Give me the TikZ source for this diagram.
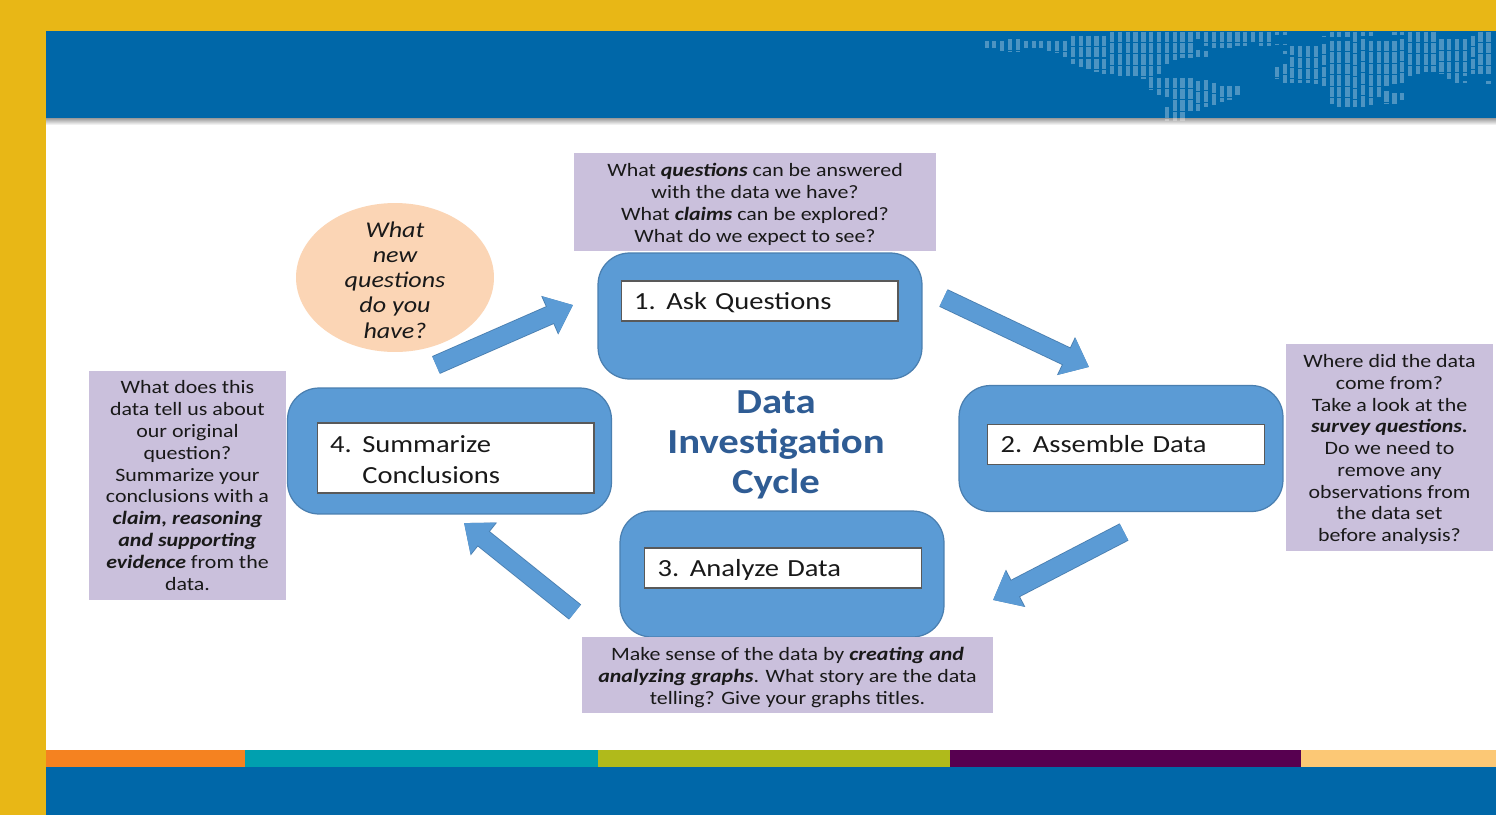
\documentclass[tikz,border=0pt]{standalone}
\usepackage{fontspec}
\setmainfont[FakeStretch=1.16]{Carlito}
\usetikzlibrary{shapes.geometric,arrows.meta}
\definecolor{frameyellow}{HTML}{E8B716}
\definecolor{bandblue}{HTML}{0067A8}
\definecolor{boxblue}{HTML}{5B9BD5}
\definecolor{edgeblue}{HTML}{4A7FB0}
\definecolor{notelilac}{HTML}{CAC0DC}
\definecolor{titleblue}{HTML}{2F5C94}
\definecolor{bubblepeach}{HTML}{FBD5B5}
\definecolor{stripeorange}{HTML}{F58220}
\definecolor{stripeteal}{HTML}{00A0AF}
\definecolor{stripegreen}{HTML}{B0BA1B}
\definecolor{stripepurple}{HTML}{570050}
\definecolor{stripesand}{HTML}{FCC875}
\newcommand{\kw}[1]{\textbf{\textit{#1}}}
\newcommand{\stepno}[1]{\makebox[18.3pt][l]{#1}}
\newcommand{\dropline}[1]{\rule{0pt}{#1}}
\tikzset{
  stepbox/.style={draw=edgeblue, fill=boxblue, line width=0.7pt, rounded corners=18pt, minimum width=6.48cm, minimum height=2.52cm},
  steplabel/.style={draw=black!65, fill=white, line width=0.6pt, minimum width=5.54cm, text width=5.54cm, inner xsep=0pt, align=left, font=\fontsize{14}{17.6}\selectfont, text=black!90},
  note/.style={fill=notelilac, inner sep=0pt, align=center, font=\fontsize{10.75}{12.4}\selectfont, text=black!90},
  flow/.style={draw=boxblue, line width=10pt, -{Triangle[length=14pt,width=22pt]},
    preaction={draw=edgeblue, line width=11pt, -{Triangle[length=14.5pt,width=23pt]}}},
  mapdot/.style={draw=white, opacity=0.3, line width=2.4pt, dash pattern=on 5.9pt off 0.6pt}
}
\begin{document}
\begin{tikzpicture}[x=0.02cm,y=-0.02cm]
  \useasboundingbox (0,0) rectangle (1496,815);
  \fill[frameyellow] (0,0) rectangle (1496,815);
  \fill[white] (46,118) rectangle (1496,750);
  \shade[top color=black!40, bottom color=white] (46,118) rectangle (1496,125);
  \fill[bandblue] (46,31) rectangle (1496,118);
  \fill[bandblue] (46,767) rectangle (1496,815);
  \fill[stripeorange] (46,750) rectangle (245,767);
  \fill[stripeteal] (245,750) rectangle (598,767);
  \fill[stripegreen] (598,750) rectangle (950,767);
  \fill[stripepurple] (950,750) rectangle (1301,767);
  \fill[stripesand] (1301,750) rectangle (1496,767);

  \begin{scope}[shift={(950,20)},x=0.00697cm,y=-0.00697cm]
    \foreach \mx/\my/\mz in {105/60/80,127/60/80,150/60/88,172/55/88,195/55/88,217/60/80,240/60/80,262/60/80,
      285/60/90,307/60/95,330/60/105,352/45/125,375/45/135,397/45/140,420/45/150,442/45/155,
      465/33/155,487/33/162,510/33/162,532/33/162,555/33/170,577/33/200,600/33/155,600/165/215,
      622/33/125,622/165/220,622/250/290,645/33/115,645/165/290,667/33/110,667/165/290,690/33/110,690/165/260,
      712/33/55,712/85/105,712/175/260,735/33/75,735/90/105,735/172/250,757/33/80,757/180/245,
      780/33/80,780/190/235,802/33/80,802/190/230,825/33/75,825/190/215,847/33/75,870/33/65,892/33/75,915/33/75,
      937/33/43,937/68/73,937/135/170,960/33/43,960/68/73,960/90/97,960/125/180,982/75/100,982/105/180,
      1005/75/180,1027/75/180,1050/75/185,1072/45/50,1072/68/190,1095/33/50,1095/60/240,1117/33/50,1117/60/250,
      1140/33/50,1140/60/250,1162/33/250,1185/33/45,1185/55/250,1207/33/45,1207/60/245,1230/60/220,
      1252/60/190,1252/205/240,1275/33/43,1275/60/185,1275/210/240,1297/33/43,1297/55/180,1297/210/230,
      1320/33/160,1342/33/155,1365/33/150,1387/33/150,1410/55/155,1432/55/170,1455/55/180,1477/55/160,
      1477/175/180,1500/45/155,1522/33/155,1545/33/155,1545/175/185}
      \draw[mapdot] (\mx,\my) -- (\mx,\mz);
  \end{scope}

  \node[stepbox] (ask) at (760,316) {};
  \node[stepbox] (assemble) at (1121,448.5) {};
  \node[stepbox] (analyze) at (782,574) {};
  \node[stepbox] (summarize) at (449.5,451) {};

  \node[steplabel, minimum height=0.8cm] (asklabel) at (759.5,301) {\dropline{12pt}\hspace{7.5pt}\stepno{1.}Ask Questions};
  \node[steplabel, minimum height=0.8cm] (assemblelabel) at (1126,444.5) {\hspace{7.5pt}\stepno{2.}Assemble Data};
  \node[steplabel, minimum height=0.8cm] (analyzelabel) at (783,568) {\dropline{12pt}\hspace{7.5pt}\stepno{3.}Analyze Data};
  \node[steplabel, minimum height=1.4cm] (summarizelabel) at (455.5,458) {\dropline{11.4pt}\hspace{7.5pt}\stepno{4.}Summarize\\\hspace{7.5pt}\stepno{}Conclusions};

  \node[note, minimum width=7.24cm, minimum height=1.96cm] (asknote) at (755,202)
    {\dropline{10.2pt}What \kw{questions} can be answered\\with the data we have?\\What \kw{claims} can be explored?\\What do we expect to see?};
  \node[note, minimum width=4.14cm, minimum height=4.14cm] (assemblenote) at (1389.5,447.5)
    {\dropline{9.8pt}Where did the data\\come from?\\Take a look at the\\\kw{survey questions.}\\Do we need to\\remove any\\observations from\\the data set\\before analysis?};
  \node[note, minimum width=8.22cm, minimum height=1.52cm] (analyzenote) at (787.5,675)
    {\dropline{10.2pt}Make sense of the data by \kw{creating and}\\\kw{analyzing graphs}. What story are the data\\telling? Give your graphs titles.};
  \node[note, minimum width=3.94cm, minimum height=4.58cm] (summarizenote) at (187.5,485.5)
    {What does this\\data tell us about\\our original\\question?\\Summarize your\\conclusions with a\\\kw{claim, reasoning}\\\kw{and supporting}\\\kw{evidence} from the\\data.};

  \node[ellipse, fill=bubblepeach, minimum width=3.96cm, minimum height=2.98cm, inner xsep=0pt, inner ysep=-9pt, align=center, font=\fontsize{12.8}{14.4}\selectfont\itshape, text=black!90] (bubble) at (395,277.5)
    {\dropline{11.6pt}What\\new\\questions\\do you\\have?};

  \node[align=center, text=titleblue, font=\fontsize{20}{22.8}\selectfont\bfseries] (cycle) at (776,445)
    {Data\\Investigation\\Cycle};

  \coordinate (flowastart) at (943.5,298);
  \coordinate (flowaend) at (1089,367);
  \coordinate (flowbstart) at (1124,532);
  \coordinate (flowbend) at (993,600);
  \coordinate (flowcstart) at (575,612);
  \coordinate (flowcend) at (464,523);
  \coordinate (flowdstart) at (436,365);
  \coordinate (flowdend) at (573,305);
  \draw[flow] (flowastart) -- (flowaend);
  \draw[flow] (flowbstart) -- (flowbend);
  \draw[flow] (flowcstart) -- (flowcend);
  \draw[flow] (flowdstart) -- (flowdend);
\end{tikzpicture}
\end{document}
